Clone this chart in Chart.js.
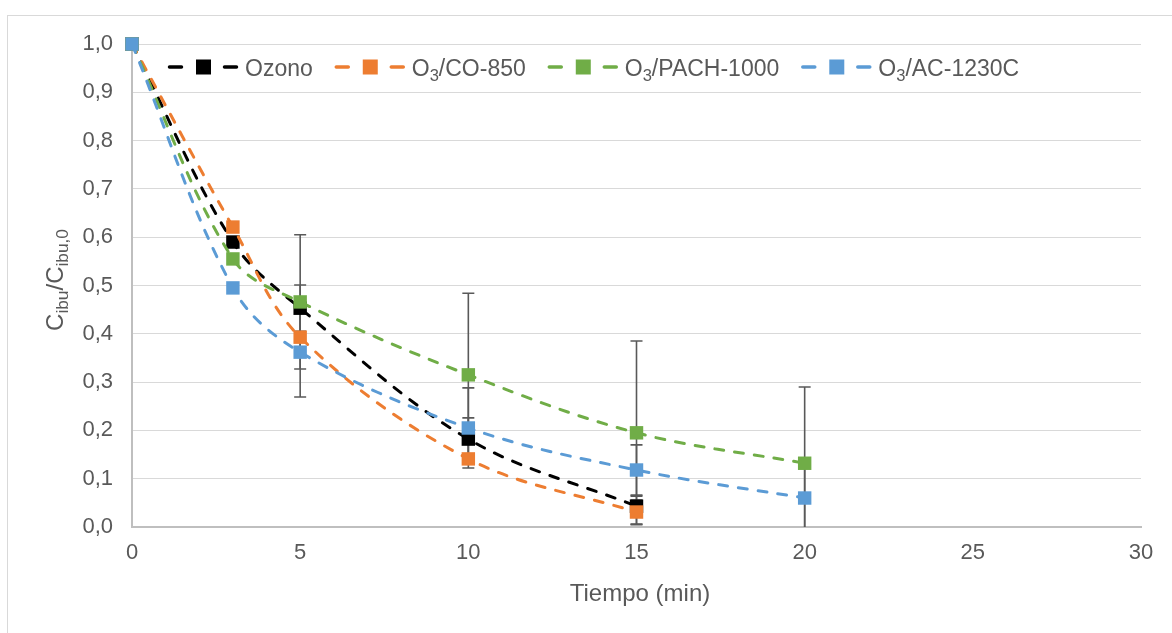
<!DOCTYPE html>
<html>
<head>
<meta charset="utf-8">
<script src="https://cdn.jsdelivr.net/npm/chart.js@4.4.1/dist/chart.umd.min.js"></script>
<style>
html, body { margin: 0; padding: 0; background: #fff; }
#wrap { position: relative; width: 1172px; height: 633px; overflow: hidden; }
#frame { position: absolute; left: 7px; top: 15px; width: 1300px; height: 800px;
         border-left: 1px solid #d9d9d9; border-top: 1px solid #d9d9d9; }
canvas { position: absolute; left: 0; top: 0; }
</style>
</head>
<body>
<div id="wrap"><div id="frame"></div><canvas id="chart" width="1172" height="633"></canvas></div>
<script>
// time axis (min)
var times = [0, 3, 5, 10, 15, 20];
var xTicks = [0, 5, 10, 15, 20, 25, 30];
var yTicks = [0, 0.1, 0.2, 0.3, 0.4, 0.5, 0.6, 0.7, 0.8, 0.9, 1.0];

// legend labels, _{..} marks a subscript
var seriesLabels = ["Ozono", "O_{3}/CO-850", "O_{3}/PACH-1000", "O_{3}/AC-1230C"];
var seriesColors = ["#000000", "#ED7D31", "#70AD47", "#5B9BD5"];

// C/C0 values
var ozono    = [1.0, 0.590, 0.453, 0.182, 0.043];
var co850    = [1.0, 0.621, 0.393, 0.141, 0.031];
var pach1000 = [1.0, 0.555, 0.466, 0.315, 0.195, 0.132];
var ac1230c  = [1.0, 0.495, 0.362, 0.205, 0.118, 0.060];

// error bars (+/-)
var ozonoErr    = [0, 0, 0.048, 0.044, 0.021];
var co850Err    = [0, 0, 0, 0, 0.025];
var pach1000Err = [0, 0, 0.139, 0.169, 0.190, 0.158];
var ac1230cErr  = [0, 0, 0.093, 0.083, 0.052, 0.065];

var xTitle = "Tiempo (min)";
var yTitle = "C_{ibu}/C_{ibu,0}";

var allValues = [ozono, co850, pach1000, ac1230c];
var allErrors = [ozonoErr, co850Err, pach1000Err, ac1230cErr];

var FONT = '"Liberation Sans", Arial, sans-serif';
var TXT = "#595959";
var SUB = 0.72;

function toPoints(vals) {
    return vals.map(function (v, i) { return { x: times[i], y: v }; });
}

// split "a_{b}c" into [[text, isSub], ...]
function parts(str) {
    var out = [], re = /_\{([^}]*)\}/g, last = 0, m;
    while ((m = re.exec(str)) !== null) {
        if (m.index > last) out.push([str.slice(last, m.index), false]);
        out.push([m[1], true]);
        last = re.lastIndex;
    }
    if (last < str.length) out.push([str.slice(last), false]);
    return out;
}

function richWidth(ctx, str, size) {
    var w = 0;
    parts(str).forEach(function (p) {
        ctx.font = (p[1] ? size * SUB : size) + "px " + FONT;
        w += ctx.measureText(p[0]).width;
    });
    return w;
}

function drawRich(ctx, str, x, y, size) {
    ctx.textBaseline = "alphabetic";
    ctx.textAlign = "left";
    parts(str).forEach(function (p) {
        var s = p[1] ? size * SUB : size;
        ctx.font = s + "px " + FONT;
        ctx.fillText(p[0], x, p[1] ? y + size * 0.22 : y);
        x += ctx.measureText(p[0]).width;
    });
    return x;
}

var errorBars = {
    id: "errorBars",
    beforeDatasetsDraw: function (chart) {
        var ctx = chart.ctx, xs = chart.scales.x, ys = chart.scales.y, a = chart.chartArea;
        ctx.save();
        ctx.beginPath();
        ctx.rect(a.left - 10, a.top - 20, a.right - a.left + 20, a.bottom - a.top + 20);
        ctx.clip();
        ctx.strokeStyle = "#595959";
        ctx.lineWidth = 1.6;
        allErrors.forEach(function (errs, si) {
            errs.forEach(function (e, i) {
                if (!e) return;
                var v = allValues[si][i];
                var px = xs.getPixelForValue(times[i]);
                var top = ys.getPixelForValue(v + e);
                var bot = ys.getPixelForValue(v - e);
                ctx.beginPath();
                ctx.moveTo(px, top); ctx.lineTo(px, bot);
                ctx.moveTo(px - 6, top); ctx.lineTo(px + 6, top);
                ctx.moveTo(px - 6, bot); ctx.lineTo(px + 6, bot);
                ctx.stroke();
            });
        });
        ctx.restore();
    }
};

var overlay = {
    id: "overlay",
    afterDraw: function (chart) {
        var ctx = chart.ctx, a = chart.chartArea;
        ctx.save();
        ctx.fillStyle = TXT;

        // x title
        ctx.font = "24px " + FONT;
        ctx.textAlign = "center";
        ctx.textBaseline = "middle";
        ctx.fillText(xTitle, 640, 594);

        // y title, rotated
        ctx.save();
        ctx.translate(63, 280);
        ctx.rotate(-Math.PI / 2);
        var w = richWidth(ctx, yTitle, 24);
        drawRich(ctx, yTitle, -w / 2, 0, 24);
        ctx.restore();

        // legend inside the plot
        var x = 168, yc = 67, size = 23;
        seriesLabels.forEach(function (lab, i) {
            var col = seriesColors[i];
            ctx.strokeStyle = col;
            ctx.lineWidth = 3.5;
            ctx.lineCap = "round";
            ctx.beginPath();
            ctx.moveTo(x + 1.5, yc); ctx.lineTo(x + 13.5, yc);
            ctx.moveTo(x + 56.5, yc); ctx.lineTo(x + 68.5, yc);
            ctx.stroke();
            ctx.fillStyle = col;
            ctx.fillRect(x + 28, yc - 7.5, 15, 15);
            ctx.fillStyle = TXT;
            var end = drawRich(ctx, lab, x + 77, yc + 8.5, size);
            x = end + 22;
        });
        ctx.restore();
    }
};

var datasets = seriesLabels.map(function (lab, i) {
    return {
        label: lab,
        data: toPoints(allValues[i]),
        borderColor: seriesColors[i],
        backgroundColor: seriesColors[i],
        borderWidth: 3,
        borderDash: [9, 11],
        borderCapStyle: "round",
        tension: 0.35,
        pointStyle: "rect",
        pointRadius: 9.5,
        pointHoverRadius: 9.5,
        pointBorderWidth: 0,
        clip: false,
        order: seriesLabels.length - i
    };
});

var ctx = document.getElementById("chart");
var chartOptions = {
    responsive: false,
    animation: false,
    events: [],
    layout: { padding: { top: 44, right: 31, left: 0, bottom: 0 } },
    plugins: {
        legend: { display: false },
        tooltip: { enabled: false }
    },
    scales: {
        x: {
            type: "linear",
            min: 0, max: 30,
            afterFit: function (s) { s.height = 106; },
            afterBuildTicks: function (s) { s.ticks = xTicks.map(function (v) { return { value: v }; }); },
            grid: { display: false, drawTicks: false },
            border: { color: "#bfbfbf", width: 2 },
            ticks: { color: TXT, font: { size: 22, family: FONT }, padding: 13, maxRotation: 0 }
        },
        y: {
            min: 0, max: 1,
            afterFit: function (s) { s.width = 132; },
            afterBuildTicks: function (s) { s.ticks = yTicks.map(function (v) { return { value: v }; }); },
            grid: { color: "#d9d9d9", lineWidth: 1, drawTicks: false },
            border: { color: "#bfbfbf", width: 2 },
            ticks: {
                color: TXT, font: { size: 22, family: FONT }, padding: 19,
                callback: function (v) { return v.toFixed(1).replace(".", ","); }
            }
        }
    }
};

var chart = new Chart(ctx, {
    type: "line",
    data: { datasets: datasets },
    options: chartOptions,
    plugins: [errorBars, overlay]
});
</script>
</body>
</html>
